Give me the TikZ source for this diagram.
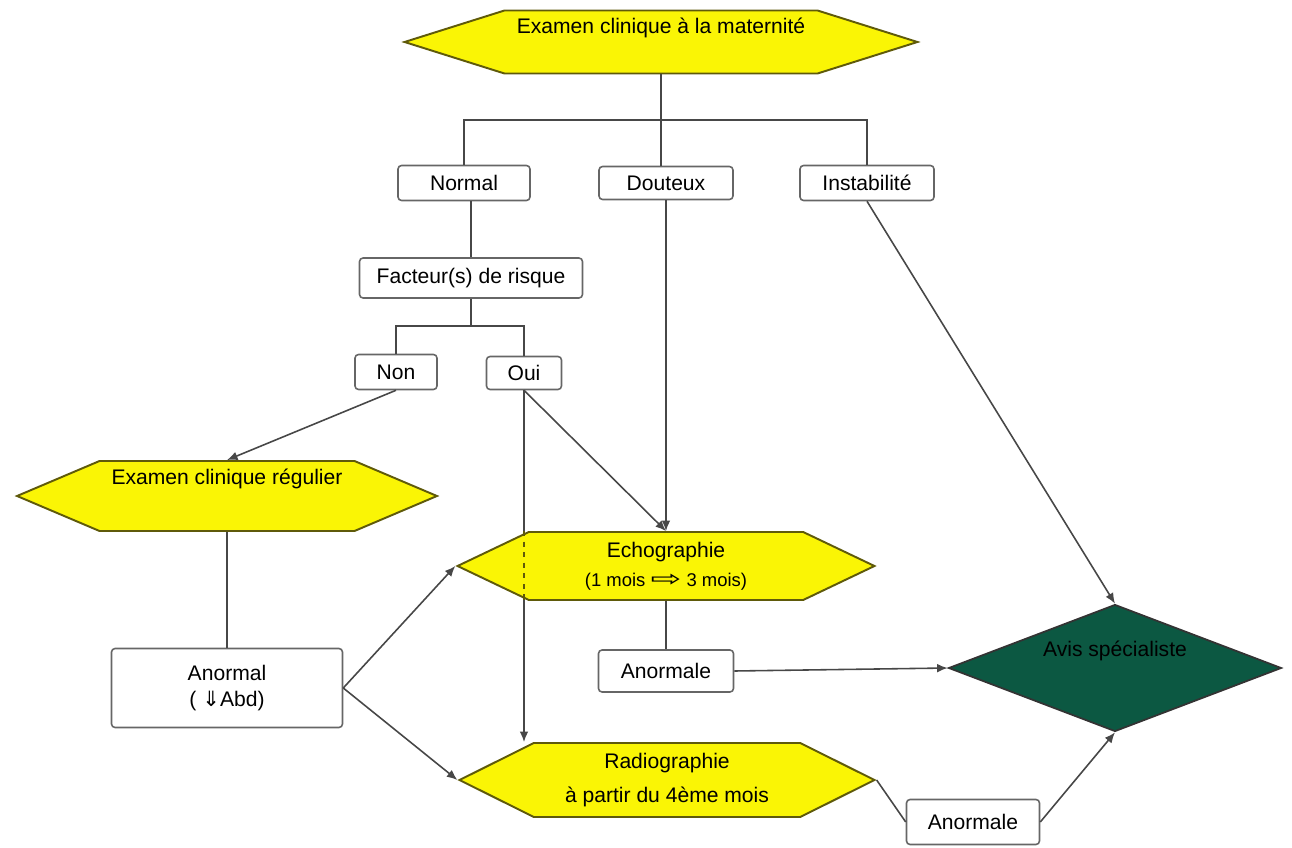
\documentclass[tikz,border=0pt]{standalone}
\usepackage{graphicx,xcolor}
\usepackage{fontspec}
\setmainfont{Liberation Sans}
\newfontfamily\flechefont{DejaVu Sans}
\usepackage{tikz}
\usetikzlibrary{shapes.geometric,shapes.symbols,arrows,arrows.meta}
\definecolor{jaune}{RGB}{250,245,5}
\definecolor{bordhex}{RGB}{95,90,10}
\definecolor{vertavis}{RGB}{12,88,66}

\begin{document}
\begin{tikzpicture}[x=0.02cm, y=-0.02cm]
	\tikzstyle{every node} = [font=\fontsize{12pt}{14.5pt}\selectfont, align=center]
	\tikzstyle{boite} = [draw=black!60, line width=0.9pt, rounded corners=2pt, fill=white, inner sep=0pt]
	\tikzstyle{hexa} = [signal, signal to=west and east, draw=bordhex, line width=1.1pt, fill=jaune, inner sep=0pt]
	\tikzstyle{lien} = [draw=black!72, line width=0.9pt]
	\tikzstyle{fleche} = [lien, -{Latex[length=6pt,width=5pt]}]
	\useasboundingbox (0,0) rectangle (1292,848);

\node[hexa, minimum width=10.26cm, minimum height=1.26cm, signal pointer angle=35, text depth=18pt] (exam) at (661,42) {Examen clinique à la maternité};
\node[boite, minimum width=2.64cm, minimum height=0.7cm] (normal) at (464,183) {Normal};
\node[boite, minimum width=2.68cm, minimum height=0.66cm] (douteux) at (666,183) {Douteux};
\node[boite, minimum width=2.68cm, minimum height=0.7cm] (instab) at (867,183) {Instabilité};
\node[boite, minimum width=4.46cm, minimum height=0.8cm] (facteur) at (471,278) {Facteur(s) de risque};
\node[boite, minimum width=1.64cm, minimum height=0.7cm] (non) at (396,372) {Non};
\node[boite, minimum width=1.5cm, minimum height=0.66cm] (oui) at (524,373) {Oui};
\node[hexa, minimum width=8.4cm, minimum height=1.4cm, signal pointer angle=46, text depth=22pt] (regulier) at (227,496) {Examen clinique régulier};
\node[boite, minimum width=4.62cm, minimum height=1.58cm] (anormal) at (227,688) {Anormal\\( {\flechefont ⇓}Abd)};
\node[hexa, minimum width=8.3cm, minimum height=1.48cm, signal pointer angle=53] (radio) at (667,780) {Radiographie\\[5pt]à partir du 4ème mois};
\node[boite, minimum width=2.66cm, minimum height=0.9cm] (anormale2) at (973,822) {Anormale};

	\path[fleche] (oui.south) -- (oui.south |- radio.north);

\node[hexa, minimum width=8.34cm, minimum height=1.36cm, signal pointer angle=51] (echo) at (666,566) {Echographie\\[2pt]{\fontsize{10.5pt}{12pt}\selectfont (1 mois \scalebox{2}[1.2]{\flechefont ⇨} 3 mois)}};
\node[boite, minimum width=2.7cm, minimum height=0.84cm] (anormale) at (666,671) {Anormale};
\node[diamond, shape aspect=2.62, draw=black!80, line width=1pt, fill=vertavis, text=black, minimum width=6.66cm, minimum height=2.54cm, inner sep=0pt, text depth=22pt] (avis) at (1115,668) {Avis spécialiste};

	\coordinate (fourche) at (661,120);
	\coordinate (fourche2) at (471,326);
	\path[draw=bordhex, dashed, line width=0.9pt] (oui.south |- echo.north) -- (oui.south |- echo.south);
	\path[lien] (exam.south) -- (exam.south |- douteux.north);
	\path[lien] (normal.north) |- (fourche) -| (instab.north);
	\path[lien] (normal.south -| facteur.north) -- (facteur.north);
	\path[lien] (facteur.south) -- (fourche2);
	\path[lien] (non.north) |- (fourche2) -| (oui.north);
	\path[fleche] (non.south) -- (regulier.north);
	\path[fleche] (oui.south) -- (echo.north);
	\path[fleche] (douteux.south) -- (echo.north);
	\path[lien] (regulier.south) -- (anormal.north);
	\path[fleche] (anormal.east) -- (echo.west);
	\path[fleche] (anormal.east) -- (radio.west);
	\path[lien] (echo.south) -- (anormale.north);
	\path[fleche] (anormale.east) -- (avis.west);
	\path[fleche] (instab.south) -- (avis.north);
	\path[lien] (radio.east) -- (anormale2.west);
	\path[fleche] (anormale2.east) -- (avis.south);
\end{tikzpicture}
\end{document}
